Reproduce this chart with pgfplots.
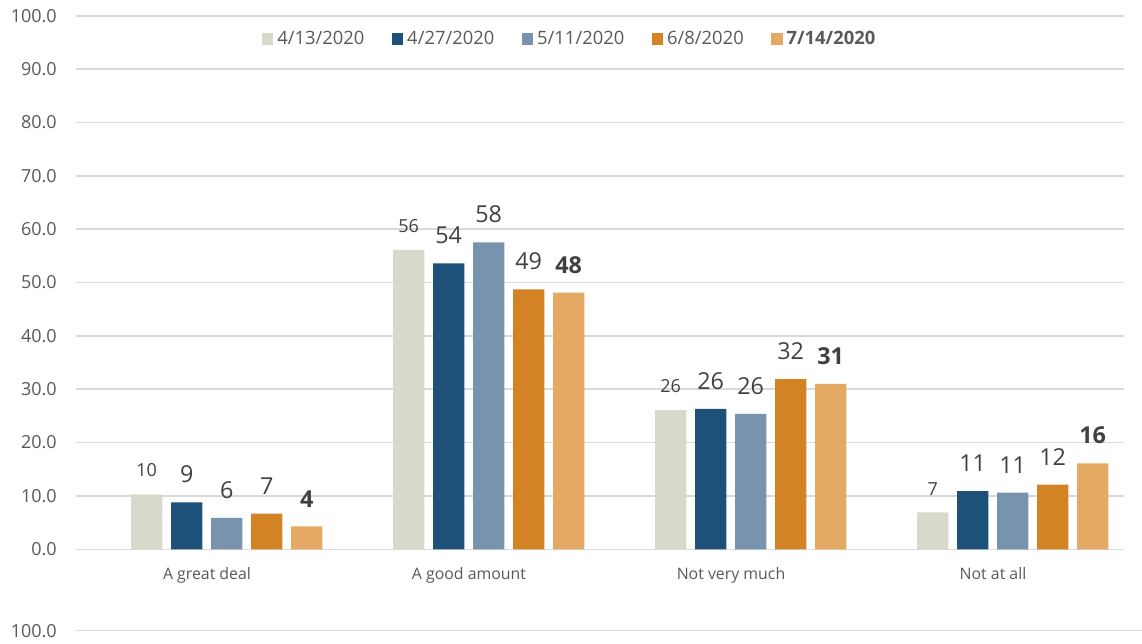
\documentclass[border=0pt]{standalone}
\usepackage{fontspec}
\setmainfont{Open Sans}
\usepackage{pgfplots}
\pgfplotsset{compat=1.18}
\definecolor{cA}{HTML}{D8D8CB}
\definecolor{cB}{HTML}{1D5179}
\definecolor{cC}{HTML}{7893AD}
\definecolor{cD}{HTML}{D38224}
\definecolor{cE}{HTML}{E4AA63}
\definecolor{gridc}{HTML}{D9D9D9}
\definecolor{tickc}{HTML}{595959}
\definecolor{labc}{HTML}{404040}
\begin{document}
\begin{tikzpicture}
\path[use as bounding box] (0,0) rectangle (856.5pt,-482.25pt);
\begin{axis}[
  at={(57pt,-411.975pt)}, anchor=south west,
  scale only axis, width=786pt, height=400.2pt,
  xmin=-0.5, xmax=3.5, ymin=0, ymax=100,
  ytick={0,10,...,100},
  xtick={0,1,2,3},
  xticklabels={A great deal, A good amount, Not very much, Not at all},
  axis line style={draw=none},
  major tick length=0pt,
  ymajorgrids, grid style={draw=gridc, line width=1.2pt},
  yticklabel style={font=\fontsize{13.5}{16}\selectfont, text=tickc, anchor=east, inner sep=0pt, xshift=-14.25pt,
    /pgf/number format/.cd, fixed, fixed zerofill, precision=1, assume math mode=true},
  xticklabel style={font=\fontsize{11.9}{14}\selectfont, text=tickc, anchor=base, inner sep=0pt, yshift=-22.5pt},
  bar width=23.6pt,
  nodes near coords, point meta=explicit symbolic,
  every node near coord/.append style={inner sep=0pt, text=labc},
  legend columns=5,
  legend style={at={(0.47,0.9563)}, anchor=center, draw=none, fill=none,
    font=\fontsize{13.8}{16}\selectfont, text=tickc,
    /tikz/every even column/.append style={column sep=20.5pt},
    /tikz/every odd column/.append style={column sep=3pt},
    nodes={inner sep=0pt}},
  legend image code/.code={\fill[#1] (0pt,-4.3pt) rectangle (8.6pt,4.3pt);},
]
\addplot[ybar, bar shift=-45.2pt, fill=cA, draw=none,
  nodes near coords style={font=\fontsize{13.5}{16}\selectfont, yshift=12.75pt, xshift=-45.2pt}]
  coordinates {(0,10.3)[10] (1,56.1)[56] (2,26.1)[26] (3,6.9)[7]};
\addplot[ybar, bar shift=-15.2pt, fill=cB, draw=none,
  nodes near coords style={font=\fontsize{17.5}{20}\selectfont, yshift=14.25pt, xshift=-15.2pt}]
  coordinates {(0,8.8)[9] (1,53.6)[54] (2,26.3)[26] (3,10.9)[11]};
\addplot[ybar, bar shift=14.8pt, fill=cC, draw=none,
  nodes near coords style={font=\fontsize{17.5}{20}\selectfont, yshift=14.25pt, xshift=14.8pt}]
  coordinates {(0,5.9)[6] (1,57.5)[58] (2,25.4)[26] (3,10.6)[11]};
\addplot[ybar, bar shift=44.8pt, fill=cD, draw=none,
  nodes near coords style={font=\fontsize{17.5}{20}\selectfont, yshift=14.25pt, xshift=44.8pt}]
  coordinates {(0,6.7)[7] (1,48.7)[49] (2,31.9)[32] (3,12.1)[12]};
\addplot[ybar, bar shift=74.8pt, fill=cE, draw=none,
  nodes near coords style={font=\bfseries\fontsize{17.5}{20}\selectfont, yshift=14.25pt, xshift=74.8pt}]
  coordinates {(0,4.3)[4] (1,48.1)[48] (2,31.0)[31] (3,16.1)[16]};
\legend{4/13/2020, 4/27/2020, 5/11/2020, 6/8/2020, \textbf{7/14/2020}}
\end{axis}
\begin{axis}[
  at={(57pt,-473pt)}, anchor=south west,
  scale only axis, width=799.5pt, height=10pt,
  xmin=0, xmax=1, ymin=100, ymax=110,
  ytick={100}, xtick=\empty,
  axis line style={draw=none},
  major tick length=0pt,
  ymajorgrids, grid style={draw=gridc, line width=1.2pt},
  yticklabel style={font=\fontsize{13.5}{16}\selectfont, text=tickc, anchor=east, inner sep=0pt, xshift=-14.25pt,
    /pgf/number format/.cd, fixed, fixed zerofill, precision=1, assume math mode=true},
]
\addplot[draw=none, mark=none] coordinates {(0,105) (1,105)};
\end{axis}
\end{tikzpicture}
\end{document}
